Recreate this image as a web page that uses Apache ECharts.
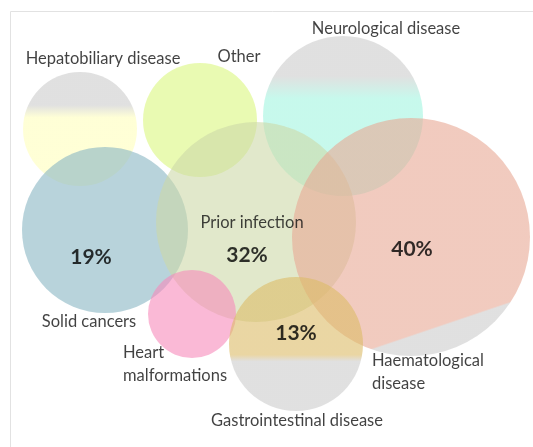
<!DOCTYPE html>
<html>
<head>
<meta charset="utf-8">
<script src="https://cdn.jsdelivr.net/npm/echarts@6/dist/echarts.min.js"></script>
<style>
  html, body { margin: 0; padding: 0; background: #fff; }
  #chart { width: 533px; height: 447px; }
</style>
</head>
<body>
<div id="chart"></div>
<script>
// groups drawn as overlapping circles (centre + radius in px space)
var names = ['Hepatobiliary disease', 'Other', 'Neurological disease', 'Solid cancers',
  'Prior infection', 'Haematological\ndisease', 'Heart\nmalformations', 'Gastrointestinal disease'];
var centerX = [80, 200, 343, 105, 256, 411, 192, 296];
var centerY = [129, 120, 116, 230, 222, 237, 314, 344];
var radius = [57, 57, 80, 83, 100, 119, 44, 67];
var percents = ['', '', '', '19%', '32%', '40%', '', '13%'];

var grey = 'rgba(204,204,204,0.75)';
function vgrad(top, bottom, a, b) {
  return new echarts.graphic.LinearGradient(0, 0, 0, 1, [
    { offset: 0, color: top }, { offset: a, color: top },
    { offset: b, color: bottom }, { offset: 1, color: bottom }
  ]);
}
// fill per circle
var fills = [
  vgrad(grey, 'rgba(255,255,187,0.75)', 0.29, 0.4),
  'rgba(219,247,126,0.75)',
  vgrad(grey, 'rgba(162,245,224,0.75)', 0.25, 0.39),
  'rgba(136,182,195,0.75)',
  'rgba(205,217,168,0.74)',
  new echarts.graphic.LinearGradient(0.5, 0.5, 0.82, 1.447, [
    { offset: 0, color: 'rgba(232,168,148,0.75)' }, { offset: 0.39, color: 'rgba(232,168,148,0.75)' },
    { offset: 0.397, color: grey }, { offset: 1, color: grey }
  ]),
  'rgba(247,139,187,0.75)',
  vgrad('rgba(220,187,102,0.75)', grey, 0.58, 0.63)
];
// name label placement relative to circle centre
var nameLabel = [
  { offset: [23, -70] },
  { offset: [39, -63] },
  { offset: [43, -87] },
  { offset: [-16, 92] },
  { offset: [-4, 1] },
  { offset: [-39, 135], align: 'left' },
  { offset: [-69, 50], align: 'left' },
  { offset: [1, 77] }
];
var pctOffset = [[0, 0], [0, 0], [0, 0], [-14, 27], [-9, 33], [1, 12], [0, 0], [0, -11]];

var circles = names.map(function (n, i) {
  return {
    name: n,
    value: [centerX[i], centerY[i]],
    symbolSize: radius[i] * 2,
    itemStyle: { color: fills[i] },
    label: Object.assign({ show: true, position: 'inside' }, nameLabel[i])
  };
});
var pcts = percents.map(function (p, i) {
  return {
    name: p,
    value: [centerX[i], centerY[i]],
    label: { show: p !== '', position: 'inside', offset: pctOffset[i] }
  };
});

var chart = echarts.init(document.getElementById('chart'));
chart.setOption({
  animation: false,
  graphic: [{
    type: 'rect', silent: true, z: -10,
    shape: { x: 10.5, y: 11.5, width: 700, height: 600 },
    style: { fill: 'none', stroke: '#e2e2e2', lineWidth: 1 }
  }],
  grid: { left: 0, right: 0, top: 0, bottom: 0 },
  xAxis: { type: 'value', min: 0, max: 533, show: false },
  yAxis: { type: 'value', min: 0, max: 447, inverse: true, show: false },
  series: [{
    type: 'scatter',
    symbol: 'circle',
    data: circles,
    label: {
      formatter: '{b}', color: '#111',
      fontFamily: 'Lato', fontSize: 16.5, lineHeight: 23
    },
    emphasis: { disabled: true }
  }, {
    type: 'scatter',
    symbolSize: 0,
    data: pcts,
    z: 5,
    label: {
      formatter: '{b}', color: '#000',
      fontFamily: 'Lato', fontWeight: 'bold', fontSize: 21
    },
    emphasis: { disabled: true }
  }]
});
</script>
</body>
</html>
